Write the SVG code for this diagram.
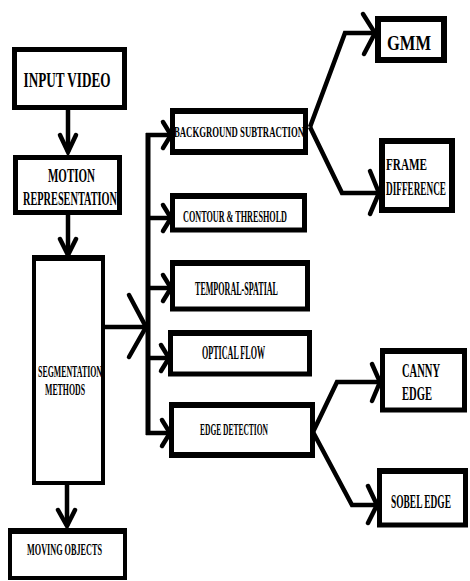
<svg xmlns="http://www.w3.org/2000/svg" width="470" height="581" viewBox="0 0 470 581">
<style>
.box{fill:#fff;stroke:#000;stroke-width:5}
.t{font-family:"Liberation Serif","Times New Roman",serif;font-weight:bold;fill:#000;text-anchor:middle}
.tl{font-family:"Liberation Serif","Times New Roman",serif;font-weight:bold;fill:#000}
.c{fill:none;stroke:#000;stroke-width:4.5;stroke-linejoin:miter}
.h{fill:none;stroke:#000;stroke-width:4.5;stroke-linejoin:miter;stroke-linecap:round}
</style>
<rect width="470" height="581" fill="#fff"/>
<g id="connectors">
<line class="c" x1="68" y1="110" x2="68" y2="152"/>
<polyline class="h" points="60,135 68,152 76,135"/>
<line class="c" x1="68" y1="215" x2="68" y2="255"/>
<polyline class="h" points="60,239 68,255 76,239"/>
<line class="c" x1="105" y1="327" x2="146" y2="327"/>
<polyline class="h" points="129,295 146,327 129,357"/>
<line class="c" x1="148" y1="133" x2="148" y2="435" style="stroke-width:5"/>
<line class="c" x1="146" y1="135" x2="171" y2="135"/>
<polyline class="h" points="163,122 171,135 163,148"/>
<line class="c" x1="146" y1="218" x2="171" y2="218"/>
<polyline class="h" points="163,205 171,218 163,231"/>
<line class="c" x1="146" y1="288" x2="171" y2="288"/>
<polyline class="h" points="163,275 171,288 163,301"/>
<line class="c" x1="146" y1="358" x2="169" y2="358"/>
<polyline class="h" points="161,345 169,358 161,371"/>
<line class="c" x1="146" y1="433" x2="170" y2="433"/>
<polyline class="h" points="162,420 170,433 162,446"/>
<line class="c" x1="67" y1="485" x2="67" y2="526"/>
<polyline class="h" points="58,510 67,526 75,510"/>
<polyline class="c" points="310,127 345,33 375,33"/>
<polyline class="h" points="363,14 375,33 364,54"/>
<polyline class="c" points="310,127 342,193 379,193"/>
<polyline class="h" points="370,171 379,193 370,214"/>
<polyline class="c" points="313,432 337,382 380,382"/>
<polyline class="h" points="372,364 380,382 372,401"/>
<polyline class="c" points="313,432 352,505 377,505"/>
<polyline class="h" points="368,486 377,505 368,523"/>
</g>
<g id="input-video">
<rect class="box" x="14.5" y="49.5" width="110" height="58"/>
<text class="t" x="67" y="87" font-size="22" textLength="87" lengthAdjust="spacingAndGlyphs">INPUT VIDEO</text>
</g>
<g id="motion-representation">
<rect class="box" x="15.5" y="157.5" width="104" height="55"/>
<text class="t" x="71.5" y="182" font-size="19" textLength="47" lengthAdjust="spacingAndGlyphs">MOTION</text>
<text class="t" x="70" y="205" font-size="19" textLength="94" lengthAdjust="spacingAndGlyphs">REPRESENTATION</text>
</g>
<g id="segmentation-methods">
<rect class="box" x="34" y="258" width="69" height="225" style="stroke-width:4"/>
<line x1="32" y1="258" x2="105" y2="258" stroke="#000" stroke-width="6"/>
<text class="t" x="70" y="377" font-size="16" textLength="64" lengthAdjust="spacingAndGlyphs">SEGMENTATION</text>
<text class="t" x="65" y="395" font-size="16" textLength="40" lengthAdjust="spacingAndGlyphs">METHODS</text>
</g>
<g id="moving-objects">
<rect class="box" x="10" y="531" width="115" height="47" style="stroke-width:4"/>
<line x1="8" y1="531" x2="127" y2="531" stroke="#000" stroke-width="6"/>
<text class="t" x="64.5" y="555" font-size="16" textLength="75" lengthAdjust="spacingAndGlyphs">MOVING OBJECTS</text>
</g>
<g id="background-subtraction">
<rect class="box" x="172.5" y="111" width="133" height="41" style="stroke-width:5"/>
<line x1="170" y1="111" x2="308" y2="111" stroke="#000" stroke-width="6"/>
<line x1="170" y1="152" x2="308" y2="152" stroke="#000" stroke-width="6"/>
<text class="t" x="239" y="137" font-size="15" textLength="130" lengthAdjust="spacingAndGlyphs">BACKGROUND SUBTRACTION</text>
</g>
<g id="contour-threshold">
<rect class="box" x="172.5" y="196" width="132" height="34"/>
<line x1="170" y1="196" x2="307" y2="196" stroke="#000" stroke-width="6"/>
<text class="t" x="235" y="222" font-size="17" textLength="104" lengthAdjust="spacingAndGlyphs">CONTOUR &amp; THRESHOLD</text>
</g>
<g id="temporal-spatial">
<rect class="box" x="172.5" y="263" width="135" height="46"/>
<line x1="170" y1="263" x2="310" y2="263" stroke="#000" stroke-width="6"/>
<text class="t" x="236.5" y="295" font-size="18" textLength="83" lengthAdjust="spacingAndGlyphs">TEMPORAL-SPATIAL</text>
</g>
<g id="optical-flow">
<rect class="box" x="170.5" y="333" width="139" height="41"/>
<line x1="168" y1="333" x2="312" y2="333" stroke="#000" stroke-width="6"/>
<text class="t" x="233.5" y="359" font-size="18" textLength="63" lengthAdjust="spacingAndGlyphs">OPTICAL FLOW</text>
</g>
<g id="edge-detection">
<rect class="box" x="171.5" y="405" width="141" height="50"/>
<line x1="169" y1="405" x2="315" y2="405" stroke="#000" stroke-width="6"/>
<line x1="169" y1="455" x2="315" y2="455" stroke="#000" stroke-width="6"/>
<text class="t" x="234" y="435" font-size="17" textLength="68" lengthAdjust="spacingAndGlyphs">EDGE DETECTION</text>
</g>
<g id="gmm">
<rect class="box" x="378" y="19" width="66" height="41" style="stroke-width:6"/>
<text class="t" x="409" y="50" font-size="21" textLength="44" lengthAdjust="spacingAndGlyphs">GMM</text>
</g>
<g id="frame-difference">
<rect class="box" x="382" y="141" width="70" height="69" style="stroke-width:6"/>
<text class="tl" x="386" y="170" font-size="16" textLength="41" lengthAdjust="spacingAndGlyphs">FRAME</text>
<text class="tl" x="386" y="195" font-size="18" textLength="60" lengthAdjust="spacingAndGlyphs">DIFFERENCE</text>
</g>
<g id="canny-edge">
<rect class="box" x="382.5" y="351" width="82" height="59"/>
<line x1="380" y1="351" x2="467" y2="351" stroke="#000" stroke-width="6"/>
<text class="tl" x="402" y="377" font-size="19" textLength="38" lengthAdjust="spacingAndGlyphs">CANNY</text>
<text class="tl" x="402" y="400" font-size="19" textLength="30" lengthAdjust="spacingAndGlyphs">EDGE</text>
</g>
<g id="sobel-edge">
<rect class="box" x="379.5" y="471" width="86" height="54"/>
<line x1="377" y1="471" x2="468" y2="471" stroke="#000" stroke-width="6"/>
<text class="t" x="421" y="508" font-size="18" textLength="60" lengthAdjust="spacingAndGlyphs">SOBEL EDGE</text>
</g>
</svg>
